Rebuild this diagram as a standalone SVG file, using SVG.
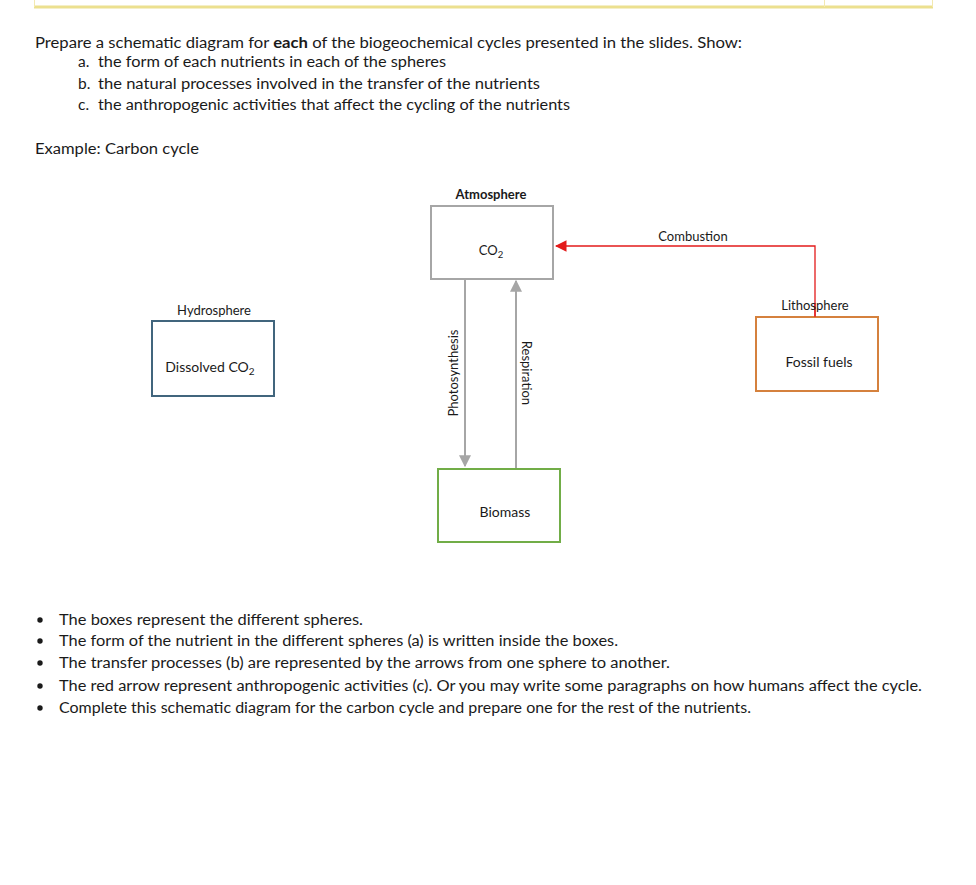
<svg xmlns="http://www.w3.org/2000/svg" width="976" height="885" viewBox="0 0 976 885">
<style>
.t{font-family:"Lato","Noto Sans","Liberation Sans",sans-serif;fill:#1a1a1a}
.m{font-size:15.5px}
.s{font-size:13px}
.box{fill:#fff;stroke-width:2}
.gl{stroke:#a6a6a6;stroke-width:2;fill:none}
</style>
<defs>
<marker id="ag" viewBox="0 0 10 10" refX="9" refY="5" markerWidth="6" markerHeight="6" orient="auto"><path d="M0,0 L10,5 L0,10 z" fill="#a6a6a6"/></marker>
<marker id="ar" viewBox="0 0 10 10" refX="9" refY="5" markerWidth="9" markerHeight="9" orient="auto"><path d="M0,0 L10,5 L0,10 z" fill="#e31b1b"/></marker>
</defs>
<rect width="976" height="885" fill="#fff"/>
<g id="header-frame">
<line x1="34" y1="7" x2="933" y2="7" stroke="#ece08f" stroke-width="3"/>
<line x1="34.5" y1="0" x2="34.5" y2="7" stroke="#f3e9b0" stroke-width="1"/>
<line x1="824.5" y1="0" x2="824.5" y2="7" stroke="#f3e9b0" stroke-width="1"/>
<line x1="932.5" y1="0" x2="932.5" y2="7" stroke="#f3e9b0" stroke-width="1"/>
</g>
<g id="instructions">
<text class="t m" x="35" y="48" textLength="707" lengthAdjust="spacingAndGlyphs">Prepare a schematic diagram for <tspan font-weight="bold">each</tspan> of the biogeochemical cycles presented in the slides. Show:</text>
<text class="t m" x="78" y="67">a.</text>
<text class="t m" x="98" y="67" textLength="348" lengthAdjust="spacingAndGlyphs">the form of each nutrients in each of the spheres</text>
<text class="t m" x="78" y="89">b.</text>
<text class="t m" x="98" y="89" textLength="442" lengthAdjust="spacingAndGlyphs">the natural processes involved in the transfer of the  nutrients</text>
<text class="t m" x="78" y="110">c.</text>
<text class="t m" x="98" y="110" textLength="472" lengthAdjust="spacingAndGlyphs">the anthropogenic activities that affect the cycling of the nutrients</text>
<text class="t m" x="35" y="154" textLength="164" lengthAdjust="spacingAndGlyphs">Example:  Carbon cycle</text>
</g>
<g id="connectors">
<line class="gl" x1="465" y1="279" x2="465" y2="466" marker-end="url(#ag)"/>
<line class="gl" x1="516" y1="468" x2="516" y2="281" marker-end="url(#ag)"/>
<polyline points="815,317 815,246 556,246" fill="none" stroke="#e31b1b" stroke-width="1.3" marker-end="url(#ar)"/>
<text class="t s" x="453" y="373" text-anchor="middle" dominant-baseline="central" transform="rotate(-90 453 373)">Photosynthesis</text>
<text class="t s" x="527" y="373" text-anchor="middle" dominant-baseline="central" transform="rotate(90 527 373)">Respiration</text>
<text class="t s" x="693" y="241" text-anchor="middle">Combustion</text>
</g>
<g id="atmosphere">
<text class="t s" x="491" y="199" text-anchor="middle" font-weight="bold">Atmosphere</text>
<rect class="box" x="431" y="206" width="122" height="73" stroke="#a6a6a6"/>
<text class="t s" x="491" y="255" text-anchor="middle">CO<tspan font-size="9.5" dy="3">2</tspan></text>
</g>
<g id="hydrosphere">
<text class="t s" x="214" y="315" text-anchor="middle">Hydrosphere</text>
<rect class="box" x="152" y="321" width="122" height="75" stroke="#41657d"/>
<text class="t" font-size="14" x="210" y="372" text-anchor="middle">Dissolved CO<tspan font-size="10" dy="3">2</tspan></text>
</g>
<g id="lithosphere">
<rect class="box" x="756" y="317" width="122" height="74" stroke="#d5813d"/>
<line x1="815" y1="303" x2="815" y2="317" stroke="#e31b1b" stroke-width="1.3"/>
<text class="t s" x="815" y="310" text-anchor="middle">Lithosphere</text>
<text class="t" font-size="14" x="819" y="367" text-anchor="middle">Fossil fuels</text>
</g>
<g id="biosphere">
<rect class="box" x="438" y="469" width="122" height="73" stroke="#71ad47"/>
<text class="t" font-size="14" x="505" y="517" text-anchor="middle">Biomass</text>
</g>
<g id="notes">
<circle cx="40" cy="620" r="2.7" fill="#1a1a1a"/>
<text class="t m" x="59" y="625" textLength="304" lengthAdjust="spacingAndGlyphs">The boxes represent the different spheres.</text>
<circle cx="40" cy="641" r="2.7" fill="#1a1a1a"/>
<text class="t m" x="59" y="646" textLength="559" lengthAdjust="spacingAndGlyphs">The form of the nutrient in the different spheres (a) is written inside the boxes.</text>
<circle cx="40" cy="663" r="2.7" fill="#1a1a1a"/>
<text class="t m" x="59" y="668" textLength="611" lengthAdjust="spacingAndGlyphs">The transfer processes (b) are represented by the arrows from one sphere to another.</text>
<circle cx="40" cy="686" r="2.7" fill="#1a1a1a"/>
<text class="t m" x="59" y="691" textLength="863" lengthAdjust="spacingAndGlyphs">The red arrow represent anthropogenic activities (c). Or you may write some paragraphs on how humans affect the cycle.</text>
<circle cx="40" cy="708" r="2.7" fill="#1a1a1a"/>
<text class="t m" x="59" y="713" textLength="692" lengthAdjust="spacingAndGlyphs">Complete this schematic diagram for the carbon cycle and prepare one for the rest of the nutrients.</text>
</g>
</svg>
